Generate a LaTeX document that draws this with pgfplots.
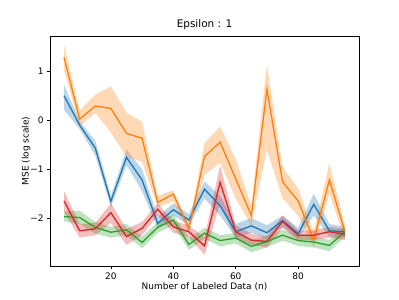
\documentclass[border=0pt]{standalone}
\usepackage{fontspec}
\setmainfont{DejaVu Sans}
\usepackage{pgfplots}
\pgfplotsset{compat=1.18}
\usepackage{pgfplotstable}
\usepgfplotslibrary{fillbetween}
\definecolor{C0}{HTML}{1F77B4}
\definecolor{C1}{HTML}{FF7F0E}
\definecolor{C2}{HTML}{2CA02C}
\definecolor{C3}{HTML}{D62728}
\pgfplotstableread{
x y lo hi
5 0.5 0.21 0.72
10 -0.1 -0.18 -0.02
15 -0.57 -0.72 -0.42
20 -1.66 -1.78 -1.55
25 -0.76 -0.92 -0.6
30 -1.22 -1.45 -1.0
35 -2.11 -2.22 -1.98
40 -1.83 -1.95 -1.7
45 -2.04 -2.15 -1.92
50 -1.41 -1.6 -1.25
55 -1.75 -1.95 -1.55
60 -2.28 -2.4 -2.12
65 -2.16 -2.3 -2.0
70 -2.3 -2.42 -2.15
75 -2.05 -2.18 -1.95
80 -2.32 -2.42 -2.2
85 -1.72 -1.95 -1.5
90 -2.26 -2.38 -2.12
95 -2.28 -2.38 -2.18
}\tblue
\pgfplotstableread{
x y lo hi
5 1.28 1.02 1.54
10 0.02 -0.12 0.2
15 0.29 0.15 0.52
20 0.24 -0.25 0.69
25 -0.27 -0.75 0.15
30 -0.37 -0.85 -0.03
35 -1.68 -1.78 -1.55
40 -1.51 -1.66 -1.43
45 -2.22 -2.3 -2.14
50 -0.74 -1.12 -0.47
55 -0.45 -0.87 -0.13
60 -1.2 -1.6 -0.8
65 -1.95 -2.15 -1.75
70 0.63 -0.6 1.13
75 -1.26 -1.6 -0.95
80 -1.65 -1.95 -1.4
85 -2.45 -2.6 -2.3
90 -1.22 -1.5 -0.88
95 -2.28 -2.45 -2.15
}\torange
\pgfplotstableread{
x y lo hi
5 -1.97 -2.07 -1.87
10 -1.99 -2.12 -1.85
15 -2.19 -2.32 -2.08
20 -2.29 -2.4 -2.18
25 -2.24 -2.35 -2.12
30 -2.5 -2.62 -2.38
35 -2.19 -2.3 -2.08
40 -2.04 -2.15 -1.93
45 -2.54 -2.65 -2.42
50 -2.31 -2.42 -2.2
55 -2.46 -2.58 -2.35
60 -2.41 -2.52 -2.3
65 -2.58 -2.7 -2.46
70 -2.48 -2.6 -2.37
75 -2.35 -2.46 -2.24
80 -2.46 -2.57 -2.35
85 -2.49 -2.6 -2.38
90 -2.56 -2.68 -2.45
95 -2.28 -2.38 -2.18
}\tgreen
\pgfplotstableread{
x y lo hi
5 -1.65 -1.87 -1.45
10 -2.26 -2.4 -2.12
15 -2.22 -2.35 -2.1
20 -1.89 -2.1 -1.7
25 -2.38 -2.55 -2.22
30 -2.21 -2.35 -2.08
35 -1.82 -1.95 -1.7
40 -2.18 -2.3 -2.06
45 -2.28 -2.4 -2.15
50 -2.57 -2.75 -2.4
55 -1.27 -1.7 -0.92
60 -2.28 -2.42 -2.15
65 -2.45 -2.55 -2.32
70 -2.48 -2.6 -2.38
75 -2.07 -2.2 -1.95
80 -2.35 -2.45 -2.25
85 -2.35 -2.45 -2.25
90 -2.28 -2.4 -2.18
95 -2.33 -2.45 -2.22
}\tred
\begin{document}
\begin{tikzpicture}[x=1bp,y=1bp]
\begin{axis}[
  scale only axis, width=309bp, height=230bp,
  xmin=0.5, xmax=99.5, ymin=-2.98, ymax=1.72,
  xtick={20,40,60,80}, ytick={-2,-1,0,1},
  yticklabels={−2,−1,0,1},
  tick align=outside, tick pos=left,
  major tick length=3bp,
  every tick/.style={black, line width=0.7bp},
  axis line style={line width=0.7bp},
  tick label style={font=\fontsize{9}{10}\selectfont},
  label style={font=\fontsize{9}{10}\selectfont},
  title style={font=\fontsize{10.5}{12}\selectfont, at={(0.5,1)}, anchor=south, yshift=-3bp},
  /pgf/number format/assume math mode=true,
  title={Epsilon : 1},
  xlabel={Number of Labeled Data (n)},
  ylabel={MSE (log scale)},
  xlabel style={yshift=3bp},
  ylabel style={yshift=-7bp},
  every axis plot/.append style={line width=1.3bp},
]
% blue
\addplot[draw=none, name path=bh] table[x=x,y=hi]{\tblue};
\addplot[draw=none, name path=bl] table[x=x,y=lo]{\tblue};
\addplot[C0, fill opacity=0.3, draw=none] fill between[of=bh and bl];
\addplot[C0] table[x=x,y=y]{\tblue};
% orange
\addplot[draw=none, name path=oh] table[x=x,y=hi]{\torange};
\addplot[draw=none, name path=ol] table[x=x,y=lo]{\torange};
\addplot[C1, fill opacity=0.3, draw=none] fill between[of=oh and ol];
\addplot[C1] table[x=x,y=y]{\torange};
% green
\addplot[draw=none, name path=gh] table[x=x,y=hi]{\tgreen};
\addplot[draw=none, name path=gl] table[x=x,y=lo]{\tgreen};
\addplot[C2, fill opacity=0.3, draw=none] fill between[of=gh and gl];
\addplot[C2] table[x=x,y=y]{\tgreen};
% red
\addplot[draw=none, name path=rh] table[x=x,y=hi]{\tred};
\addplot[draw=none, name path=rl] table[x=x,y=lo]{\tred};
\addplot[C3, fill opacity=0.3, draw=none] fill between[of=rh and rl];
\addplot[C3] table[x=x,y=y]{\tred};
\end{axis}
\path[use as bounding box] ([xshift=-50bp,yshift=-33bp]current axis.south west) rectangle ([xshift=40bp,yshift=36bp]current axis.north east);
\end{tikzpicture}
\end{document}
